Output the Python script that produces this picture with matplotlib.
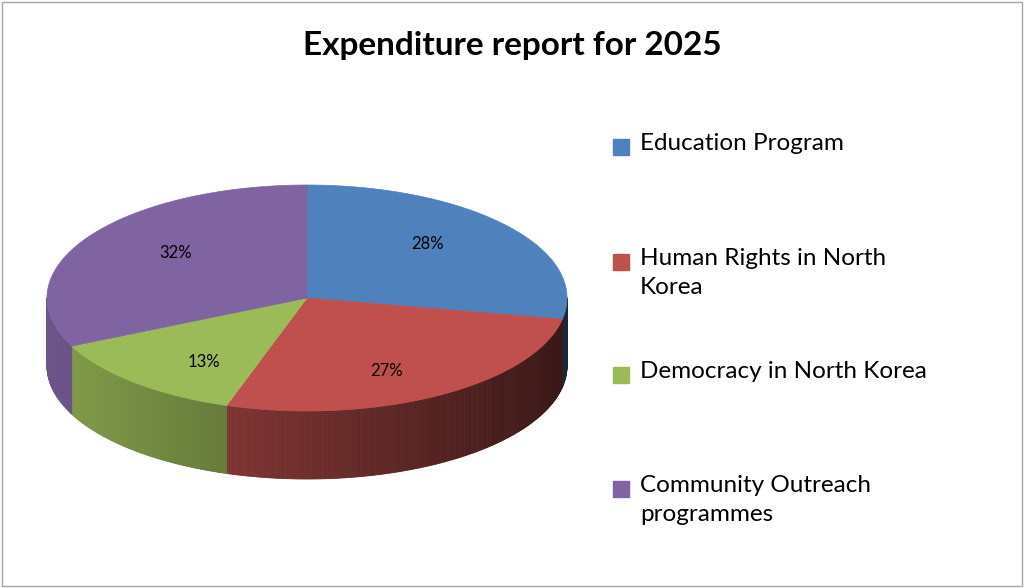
import numpy as np
import matplotlib.pyplot as plt
from matplotlib.patches import Polygon, Rectangle
import matplotlib.colors as mcolors

plt.rcParams['font.family'] = ['Lato', 'DejaVu Sans']

categories = ["Education Program", "Human Rights in North\nKorea",
              "Democracy in North Korea", "Community Outreach\nprogrammes"]
shares = [28, 27, 13, 32]
colors = ["#4f81bd", "#c0504d", "#9bbb59", "#8064a2"]
legend_y = [147, 262, 375, 489]

# pie geometry in pixel units
cx, cy, rx, ry, depth = 307, 298, 260, 113, 68

fig = plt.figure(figsize=(10.24, 5.88), dpi=100)
ax = fig.add_axes([0, 0, 1, 1])
ax.set_xlim(0, 1024)
ax.set_ylim(588, 0)
ax.axis('off')
fig.patches.append(Rectangle((0.002, 0.003), 0.996, 0.994, transform=fig.transFigure,
                             fill=False, ec="#a6a6a6", lw=1))

def pt(t, dy=0):
    return cx + rx * np.cos(t), cy - ry * np.sin(t) + dy

fr = np.array(shares) / sum(shares)
cum = np.concatenate([[0], np.cumsum(fr)])
starts = np.radians(90 - 360 * cum[:-1])
ends = np.radians(90 - 360 * cum[1:])

# side walls (front half only), shaded in small steps
for a0, a1, c in zip(starts, ends, colors):
    ts = np.linspace(a1, a0, 200)
    base = np.array(mcolors.to_rgb(c))
    for t0, t1 in zip(ts[:-1], ts[1:]):
        if np.sin(t0) > 0 and np.sin(t1) > 0:
            continue
        x0, y0 = pt(t0)
        x1, y1 = pt(t1)
        k = 0.85 - 0.55 * (np.cos((t0 + t1) / 2) + 1) / 2
        ax.add_patch(Polygon([(x0, y0), (x1, y1), (x1, y1 + depth), (x0, y0 + depth)],
                             closed=True, fc=base * k, ec=base * k, lw=0.6))

# top face
for a0, a1, c in zip(starts, ends, colors):
    ts = np.linspace(a0, a1, 200)
    xs, ys = pt(ts)
    verts = [(cx, cy)] + list(zip(xs, ys))
    ax.add_patch(Polygon(verts, closed=True, fc=c, ec=c, lw=0.5))

# percentage labels
for a0, a1, s in zip(starts, ends, shares):
    m = (a0 + a1) / 2
    x = cx + 0.6 * rx * np.cos(m)
    y = cy - 0.75 * ry * np.sin(m)
    ax.text(x, y, f"{s}%", fontsize=12, ha='center', va='center')

ax.text(512, 45, "Expenditure report for 2025", fontsize=24, fontweight='bold',
        ha='center', va='center')

# legend
for name, c, y in zip(categories, colors, legend_y):
    ax.add_patch(Rectangle((613, y - 8), 16, 16, fc=c, ec=c))
    ax.text(640, y - 14, name, fontsize=17.5, ha='left', va='top', linespacing=1.45)

fig.savefig("out.png", dpi=100)
